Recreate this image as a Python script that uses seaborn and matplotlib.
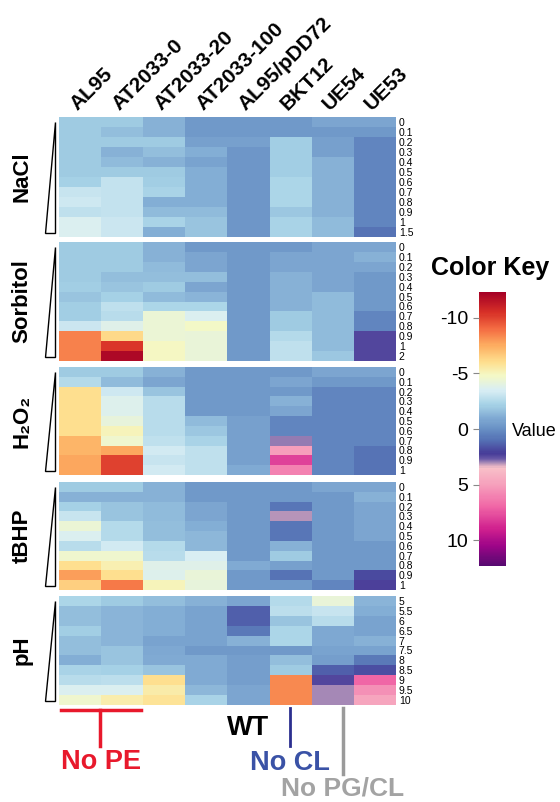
import numpy as np
import pandas as pd
import matplotlib
matplotlib.use("Agg")
import matplotlib.pyplot as plt
import seaborn as sns
from matplotlib.colors import LinearSegmentedColormap, Normalize
from matplotlib.patches import Polygon
from matplotlib.lines import Line2D

# strains (columns)
strains = ["AL95", "AT2033-0", "AT2033-20", "AT2033-100", "AL95/pDD72", "BKT12", "UE54", "UE53"]

# row labels per stress
nacl_rows = ["0", "0.1", "0.2", "0.3", "0.4", "0.5", "0.6", "0.7", "0.8", "0.9", "1", "1.5"]
sorb_rows = ["0", "0.1", "0.2", "0.3", "0.4", "0.5", "0.6", "0.7", "0.8", "0.9", "1", "2"]
h2o2_rows = ["0", "0.1", "0.2", "0.3", "0.4", "0.5", "0.6", "0.7", "0.8", "0.9", "1"]
tbhp_rows = ["0", "0.1", "0.2", "0.3", "0.4", "0.5", "0.6", "0.7", "0.8", "0.9", "1"]
ph_rows = ["5", "5.5", "6", "6.5", "7", "7.5", "8", "8.5", "9", "9.5", "10"]

nacl_vals = [
    [-2.0, -2.0, -1.2, -0.3, -0.3, -0.3, -0.8, -0.8],
    [-2.0, -1.6, -1.2, -0.3, -0.3, -0.3, -0.3, -0.3],
    [-2.0, -2.0, -2.0, -0.6, -0.6, -2.1, -0.6, 0.3],
    [-2.0, -1.2, -1.6, -1.1, -0.2, -2.1, -0.6, 0.3],
    [-2.0, -1.5, -1.2, -0.7, -0.2, -2.1, -1.2, 0.3],
    [-2.0, -2.0, -2.0, -1.1, -0.2, -2.1, -1.2, 0.3],
    [-2.2, -2.9, -2.1, -1.1, -0.2, -2.4, -1.2, 0.3],
    [-3.0, -2.9, -2.3, -1.1, -0.2, -2.4, -1.2, 0.3],
    [-3.2, -2.9, -1.1, -1.1, -0.2, -2.4, -1.2, 0.3],
    [-2.8, -2.9, -1.5, -1.5, -0.2, -1.9, -1.2, 0.3],
    [-3.6, -3.1, -2.3, -1.8, -0.2, -2.3, -1.5, 0.3],
    [-3.6, -3.1, -1.1, -1.8, -0.2, -2.3, -1.5, 0.9],
]
sorb_vals = [
    [-2.0, -2.0, -1.2, -0.3, -0.3, -0.3, -0.8, -0.8],
    [-2.0, -2.0, -1.2, -0.8, -0.3, -0.8, -0.8, -1.2],
    [-2.0, -2.0, -1.5, -0.8, -0.3, -0.8, -0.8, -0.8],
    [-2.0, -1.6, -1.6, -1.6, -0.3, -1.2, -0.8, -0.3],
    [-2.1, -1.8, -2.0, -0.8, -0.3, -1.2, -0.8, -0.3],
    [-1.8, -2.2, -1.5, -1.3, -0.3, -1.2, -1.5, -0.3],
    [-2.1, -2.8, -2.4, -2.4, -0.3, -1.2, -1.5, -0.3],
    [-2.1, -2.6, -4.4, -3.6, -0.3, -2.0, -1.5, 0.3],
    [-3.1, -3.8, -4.4, -4.8, -0.3, -2.0, -1.5, 0.3],
    [-8.5, -6.2, -4.4, -4.3, -0.3, -2.5, -1.5, 2.4],
    [-8.5, -10.3, -4.9, -4.3, -0.3, -2.8, -1.5, 2.4],
    [-8.5, -12.0, -4.9, -4.3, -0.3, -2.8, -1.9, 2.4],
]
h2o2_vals = [
    [-2.0, -2.0, -1.2, -0.3, -0.3, -0.3, -0.8, -0.8],
    [-2.5, -1.5, -0.8, -0.3, -0.3, -0.8, -0.3, -0.3],
    [-6.0, -3.2, -1.8, -0.3, -0.3, -0.3, 0.3, 0.3],
    [-6.0, -3.7, -2.6, -0.3, -0.3, -1.2, 0.3, 0.3],
    [-6.0, -3.7, -2.6, -0.3, -0.3, -0.8, 0.3, 0.3],
    [-6.0, -4.2, -2.6, -1.5, -0.6, 0.3, 0.3, 0.3],
    [-6.0, -5.0, -2.6, -1.9, -0.6, 0.3, 0.3, 0.3],
    [-7.3, -4.6, -2.8, -2.3, -0.6, 2.9, 0.3, 0.3],
    [-7.3, -7.6, -3.3, -2.8, -0.6, 5.0, 0.3, 0.9],
    [-7.6, -10.0, -3.0, -2.8, -0.6, 8.0, 0.3, 0.9],
    [-7.6, -10.0, -3.3, -2.8, -1.0, 6.0, 0.3, 0.9],
]
tbhp_vals = [
    [-2.0, -2.0, -1.2, -0.3, -0.3, -0.3, -0.8, -0.8],
    [-1.2, -1.2, -1.2, -0.3, -0.3, -0.3, -0.3, -1.2],
    [-2.2, -1.8, -1.5, -0.8, -0.3, 0.8, -0.3, -0.8],
    [-3.0, -1.8, -1.5, -0.8, -0.3, 3.1, -0.3, -0.8],
    [-4.4, -2.5, -1.6, -1.1, -0.3, 0.8, -0.3, -0.8],
    [-3.6, -2.5, -1.6, -1.4, -0.3, 0.8, -0.3, -0.8],
    [-2.6, -3.3, -2.5, -1.4, -0.3, -1.2, -0.3, -0.3],
    [-4.6, -4.6, -2.6, -3.5, -0.3, -2.0, -0.3, -0.3],
    [-6.0, -5.2, -3.8, -3.8, -1.0, -0.6, -0.3, -0.3],
    [-7.8, -6.0, -3.7, -4.3, -0.3, 0.9, -0.3, 1.9],
    [-6.5, -8.7, -5.0, -4.2, -0.3, -0.3, 0.3, 2.3],
]
ph_vals = [
    [-2.4, -2.0, -1.6, -1.2, -0.8, -2.5, -4.3, -1.3],
    [-1.6, -1.3, -1.1, -0.7, 1.4, -2.7, -3.0, -1.1],
    [-1.6, -1.3, -1.1, -0.7, 1.4, -1.8, -2.6, -0.7],
    [-2.1, -1.3, -1.1, -0.7, 0.7, -2.4, -0.9, -0.7],
    [-1.6, -1.3, -0.7, -0.7, -1.2, -2.4, -0.9, -1.2],
    [-1.6, -1.8, -0.9, -0.3, -0.3, -0.3, -0.7, -0.7],
    [-1.1, -1.8, -1.0, -1.0, -0.5, -1.6, -0.5, 0.7],
    [-2.3, -2.2, -1.8, -1.0, -0.5, -2.0, 1.4, 1.8],
    [-2.6, -2.7, -6.0, -1.0, -0.5, -8.3, 2.4, 7.0],
    [-3.6, -3.6, -5.4, -1.4, -0.8, -8.3, 3.0, 5.5],
    [-4.6, -5.3, -5.8, -2.3, -0.8, -8.3, 3.0, 4.8],
]

panels = [
    ("NaCl", nacl_rows, nacl_vals),
    ("Sorbitol", sorb_rows, sorb_vals),
    ("H\u2082O\u2082", h2o2_rows, h2o2_vals),
    ("tBHP", tbhp_rows, tbhp_vals),
    ("pH", ph_rows, ph_vals),
]

# colour scale
vmin, vmax = -12.3, 12.3
nodes = [
    (-12.3, "#a50026"), (-10.5, "#d73027"), (-9.0, "#f46d43"), (-7.5, "#fdae61"),
    (-6.0, "#fee090"), (-4.8, "#f4f8c6"), (-3.5, "#d9eef4"), (-2.2, "#a6d2e6"),
    (-1.0, "#80aad3"), (0.0, "#6890c4"), (1.0, "#5470b4"), (2.2, "#473c98"),
    (2.7, "#6a5aa8"), (3.1, "#b090b8"), (3.5, "#f8c0c8"), (5.0, "#f6a0bc"),
    (7.0, "#f066a6"), (9.0, "#d0208e"), (10.5, "#9e0588"), (12.3, "#560a70"),
]
cmap = LinearSegmentedColormap.from_list(
    "key", [((v - vmin) / (vmax - vmin), c) for v, c in nodes])

plt.rcParams["font.family"] = ["Liberation Sans", "DejaVu Sans"]
plt.rcParams["axes.unicode_minus"] = False

W, H = 560, 802
fig = plt.figure(figsize=(5.6, 8.02), dpi=100)


def fx(x):
    return x / W


def fy(y):
    return 1 - y / H


left, right = 59, 396
bounds = [(117, 237), (242, 361), (367, 475), (482, 590), (596, 705)]

for i, (name, rows, vals) in enumerate(panels):
    top, bot = bounds[i]
    ax = fig.add_axes([fx(left), fy(bot), fx(right - left), (bot - top) / H])
    df = pd.DataFrame(vals, index=rows, columns=strains)
    sns.heatmap(df, ax=ax, cmap=cmap, vmin=vmin, vmax=vmax, cbar=False,
                xticklabels=(i == 0), yticklabels=True)
    ax.yaxis.tick_right()
    ax.tick_params(axis="y", length=0, pad=2, labelsize=7.5)
    plt.setp(ax.get_yticklabels(), rotation=0)
    if i == 0:
        ax.xaxis.tick_top()
        ax.tick_params(axis="x", length=0, pad=2)
        for t in ax.get_xticklabels():
            t.set_rotation(45)
            t.set_ha("left")
            t.set_va("bottom")
            t.set_rotation_mode("anchor")
            t.set_fontsize(15)
            t.set_fontweight("bold")
    ax.set_xlabel("")
    ax.set_ylabel("")

    # concentration wedge
    tri = Polygon([(fx(55), fy(top + 5)), (fx(55), fy(bot - 4)), (fx(45), fy(bot - 4))],
                  closed=True, facecolor="white", edgecolor="black", lw=1,
                  transform=fig.transFigure)
    fig.add_artist(tri)
    fig.text(fx(22), fy((top + bot) / 2), name, rotation=90, ha="center", va="center",
             fontsize=16, fontweight="bold")

# colour key
cax = fig.add_axes([fx(479), fy(566), fx(27), 274 / H])
sm = plt.cm.ScalarMappable(norm=Normalize(vmin, vmax), cmap=cmap)
cb = fig.colorbar(sm, cax=cax, ticks=[-10, -5, 0, 5, 10])
cb.outline.set_visible(False)
cax.invert_yaxis()
cax.yaxis.set_ticks_position("left")
cax.yaxis.set_label_position("left")
cax.tick_params(labelsize=14, length=4, width=0.8, color="#888888")
fig.text(fx(490), fy(268), "Color Key", ha="center", va="center", fontsize=18, fontweight="bold")
fig.text(fx(512), fy(431), "Value", ha="left", va="center", fontsize=13)

# strain group annotations
red, blue, grey = "#e8192c", "#2b2f8f", "#9a9a9a"
fig.add_artist(Line2D([fx(61), fx(141)], [fy(710), fy(710)], color=red, lw=2.5, transform=fig.transFigure))
fig.add_artist(Line2D([fx(100), fx(100)], [fy(710), fy(746)], color=red, lw=2.5, transform=fig.transFigure))
fig.text(fx(101), fy(762), "No PE", color=red, ha="center", va="center", fontsize=19.5, fontweight="bold")
fig.text(fx(248), fy(728), "WT", color="black", ha="center", va="center", fontsize=19.5, fontweight="bold")
fig.add_artist(Line2D([fx(290), fx(290)], [fy(708), fy(746)], color=blue, lw=2, transform=fig.transFigure))
fig.text(fx(290), fy(763), "No CL", color="#3a52a6", ha="center", va="center", fontsize=19.5, fontweight="bold")
fig.add_artist(Line2D([fx(343), fx(343)], [fy(708), fy(774)], color=grey, lw=2.5, transform=fig.transFigure))
fig.text(fx(343), fy(788), "No PG/CL", color="#a3a3a3", ha="center", va="center", fontsize=19, fontweight="bold")

fig.savefig("out.png", dpi=100)
